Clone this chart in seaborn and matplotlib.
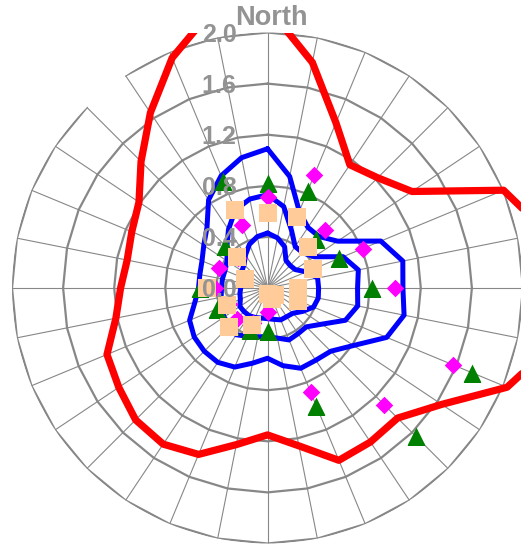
"""Polar wind-rose style chart: red/blue contours plus marker series on a 32-spoke web."""
import numpy as np
import pandas as pd
import matplotlib; matplotlib.use("Agg")
import matplotlib.pyplot as plt
import seaborn as sns

# compass directions (degrees, clockwise from north)
DIRS32 = np.arange(32) * 11.25
DIRS16 = np.arange(16) * 22.5

RED = [2.20, 1.80, 1.40, 1.16, 1.22, 1.36, 2.00, 2.23, 2.30, 2.28, 2.03, 1.64, 1.44, 1.45, 1.46, 1.26,
       1.15, 1.25, 1.41, 1.47, 1.46, 1.40, 1.36, 1.21, 1.15, 1.12, 1.15, 1.21, 1.40, 1.65, 1.95, 2.22]
BLUE_OUTER = [1.09, 0.89, 0.65, 0.57, 0.57, 0.66, 0.96, 1.08, 1.06, 1.09, 1.01, 0.81, 0.70, 0.68, 0.68, 0.62,
              0.55, 0.60, 0.67, 0.70, 0.70, 0.69, 0.66, 0.58, 0.54, 0.54, 0.555, 0.60, 0.67, 0.83, 0.95, 1.04]
BLUE_MID = [0.73, 0.65, 0.49, 0.39, 0.39, 0.44, 0.64, 0.725, 0.705, 0.72, 0.66, 0.51, 0.43, 0.43, 0.44, 0.40,
            0.38, 0.39, 0.41, 0.44, 0.42, 0.41, 0.39, 0.37, 0.36, 0.36, 0.36, 0.38, 0.45, 0.55, 0.66, 0.71]
BLUE_INNER = [0.43, 0.40, 0.35, 0.26, 0.25, 0.26, 0.33, 0.40, 0.40, 0.405, 0.39, 0.33, 0.28, 0.27, 0.27, 0.25,
              0.24, 0.24, 0.25, 0.26, 0.26, 0.26, 0.23, 0.22, 0.21, 0.21, 0.22, 0.24, 0.26, 0.31, 0.37, 0.41]

TRIANGLES = [0.82, 0.82, 0.54, 0.61, 0.82, 1.73, 1.64, 1.00, 0.34, 0.36, 0.42, 0.43, 0.53, 0.20, 0.47, 0.91]
DIAMONDS = [0.715, 0.96, 0.64, 0.805, 1.00, 1.57, 1.29, 0.885, 0.19, 0.30, 0.34, 0.33, 0.41, 0.415, 0.33, 0.53]
SQUARES = [0.585, 0.60, 0.45, 0.385, 0.24, 0.26, 0.08, 0.09, 0.05, 0.31, 0.43, 0.34, 0.47, 0.19, 0.34, 0.66]

RINGS = [0.4, 0.8, 1.2, 1.6, 2.0]
RING_LABELS = ["0.0", "0.4", "0.8", "1.2", "1.6", "2.0"]
GRID = "#878787"; TXT = "#939393"

sns.set_style("white")
plt.rcParams["font.family"] = ["Liberation Sans", "DejaVu Sans"]


def closed(dirs, vals):
    th = np.append(dirs, dirs[0] + 360.0)
    r = np.append(vals, vals[0])
    return pd.DataFrame({"theta": np.deg2rad(th), "r": r})


fig = plt.figure(figsize=(5.21, 5.48), dpi=100, facecolor="white")
ax = fig.add_axes([12 / 521, 4.5 / 548, 511 / 521, 511 / 548], projection="polar")
ax.set_theta_zero_location("N"); ax.set_theta_direction(-1)
ax.grid(False); ax.spines["polar"].set_visible(False)

# polygon web: rings + spokes
th = np.deg2rad(np.append(DIRS32, 360.0))
for r in RINGS[:-1]:
    ax.plot(th, np.full(th.size, r), color=GRID, lw=1.6, zorder=1)
outer = np.deg2rad(326.25 + DIRS32)  # outer ring is open between 315 and 326.25
ax.plot(outer, np.full(outer.size, RINGS[-1]), color=GRID, lw=1.6, zorder=1)
for d in DIRS32:
    ax.plot([np.deg2rad(d)] * 2, [0, RINGS[-1]], color=GRID, lw=0.8, zorder=1)

n0 = len(ax.lines)
sns.lineplot(data=closed(DIRS32, RED), x="theta", y="r", sort=False, estimator=None,
             color="#FF0000", lw=5.2, ax=ax, zorder=2)
for vals in (BLUE_OUTER, BLUE_MID, BLUE_INNER):
    sns.lineplot(data=closed(DIRS32, vals), x="theta", y="r", sort=False, estimator=None,
                 color="#0000FF", lw=3.6, ax=ax, zorder=2)
for ln in ax.lines[n0:]:
    ln.set_clip_path(None); ln.set_clip_box(ax.bbox)

t16 = np.deg2rad(DIRS16)
sns.scatterplot(x=t16, y=TRIANGLES, marker="^", s=165, color="#008000", linewidth=0, ax=ax, zorder=3)
sns.scatterplot(x=t16, y=DIAMONDS, marker="D", s=80, color="#FF00FF", linewidth=0, ax=ax, zorder=4)
sns.scatterplot(x=t16, y=SQUARES, marker="s", s=170, color="#FFCC99", linewidth=0, ax=ax, zorder=5)

for i, lab in enumerate(RING_LABELS):
    ax.annotate(lab, xy=(0, i * 0.4), xytext=(-31, -9), textcoords="offset pixels",
                ha="right", va="baseline", fontsize=18, fontweight="bold", color=TXT,
                zorder=6, annotation_clip=False)
fig.text(271.5 / 521, 1 - 25 / 548, "North", ha="center", va="baseline",
         fontsize=19.5, fontweight="bold", color=TXT)

ax.set_xticks([]); ax.set_yticks([])
ax.set_xlabel(""); ax.set_ylabel("")
ax.set_ylim(0, 2.0)
fig.savefig("out.png", dpi=100, facecolor="white")
